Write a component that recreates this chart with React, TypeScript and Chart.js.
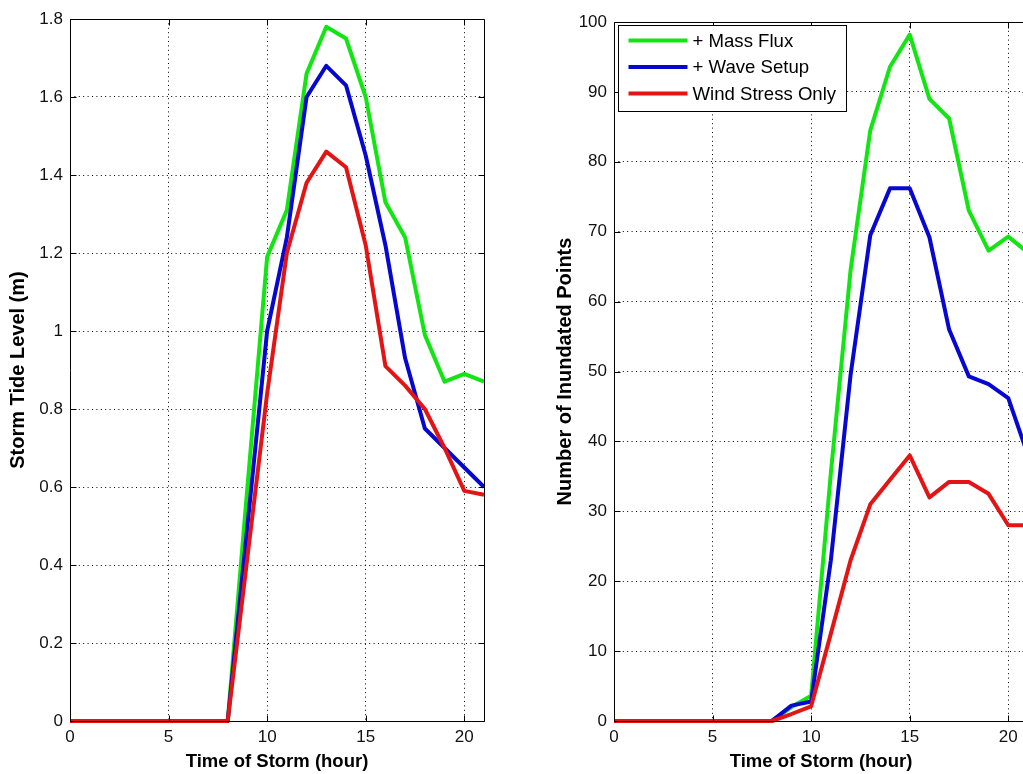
import React, { useEffect, useRef } from "react";
import { Chart, registerables } from "chart.js";

Chart.register(...registerables);

// ---------------- data ----------------
const hours = [0, 1, 2, 3, 4, 5, 6, 7, 8, 9, 10, 11, 12, 13, 14, 15, 16, 17, 18, 19, 20, 21];

const seriesLabels = ["+ Mass Flux", "+ Wave Setup", "Wind Stress Only"];
const seriesColors = ["#12e612", "#0707d2", "#e41414"];

// Left panel: Storm Tide Level (m)
const tideMassFlux = [0, 0, 0, 0, 0, 0, 0, 0, 0, 0.6, 1.19, 1.31, 1.66, 1.78, 1.75, 1.6, 1.33, 1.24, 0.99, 0.87, 0.89, 0.87];
const tideWaveSetup = [0, 0, 0, 0, 0, 0, 0, 0, 0, 0.5, 1.0, 1.24, 1.6, 1.68, 1.63, 1.45, 1.22, 0.93, 0.75, 0.7, 0.65, 0.6];
const tideWindOnly = [0, 0, 0, 0, 0, 0, 0, 0, 0, 0.42, 0.84, 1.2, 1.38, 1.46, 1.42, 1.22, 0.91, 0.86, 0.8, 0.7, 0.59, 0.58];

// Right panel: Number of Inundated Points
const pointsMassFlux = [0, 0, 0, 0, 0, 0, 0, 0, 0, 2, 3.6, 35.5, 64.5, 84.5, 93.6, 98.2, 89, 86.2, 73, 67.3, 69.3, 67];
const pointsWaveSetup = [0, 0, 0, 0, 0, 0, 0, 0, 0, 2.2, 2.8, 23, 49.5, 69.5, 76.2, 76.2, 69.2, 56, 49.3, 48.2, 46.2, 38];
const pointsWindOnly = [0, 0, 0, 0, 0, 0, 0, 0, 0, 1.0, 2.1, 12.5, 23, 31, 34.5, 38, 32, 34.2, 34.2, 32.5, 28, 28];

// Ticks
const xTicks = [0, 5, 10, 15, 20];
const leftYTicks = [0, 0.2, 0.4, 0.6, 0.8, 1, 1.2, 1.4, 1.6, 1.8];
const rightYTicks = [0, 10, 20, 30, 40, 50, 60, 70, 80, 90, 100];

const xTitle = "Time of Storm (hour)";
const leftYTitle = "Storm Tide Level (m)";
const rightYTitle = "Number of Inundated Points";

// ---------------- styling ----------------
const FONT = '"Liberation Sans", Arial, Helvetica, sans-serif';
const TICK_LEN = 6;

const matlabAxes = {
  id: "matlabAxes",
  afterDatasetsDraw(chart: any, _args: any, opts: any) {
    const { ctx, chartArea: a, scales } = chart;
    const L = Math.round(a.left) + 0.5;
    const R = Math.round(a.right) + 0.5;
    const T = Math.round(a.top) + 0.5;
    const B = Math.round(a.bottom) + 0.5;
    ctx.save();
    ctx.strokeStyle = "#000";
    ctx.lineWidth = 1;
    ctx.beginPath();
    ctx.rect(L, T, R - L, B - T);
    const xs = scales.x;
    for (const t of xs.ticks) {
      const px = Math.round(xs.getPixelForValue(t.value)) + 0.5;
      ctx.moveTo(px, B);
      ctx.lineTo(px, B - TICK_LEN);
      ctx.moveTo(px, T);
      ctx.lineTo(px, T + TICK_LEN);
    }
    const ys = scales.y;
    for (const t of ys.ticks) {
      const py = Math.round(ys.getPixelForValue(t.value)) + 0.5;
      ctx.moveTo(L, py);
      ctx.lineTo(L + TICK_LEN, py);
      ctx.moveTo(R, py);
      ctx.lineTo(R - TICK_LEN, py);
    }
    ctx.stroke();

    if (opts && opts.legend) {
      const bx = Math.round(a.left) + 4.5;
      const by = Math.round(a.top) + 3.5;
      const bw = 228;
      const bh = 86;
      ctx.fillStyle = "#fff";
      ctx.fillRect(bx, by, bw, bh);
      ctx.strokeStyle = "#000";
      ctx.lineWidth = 1;
      ctx.strokeRect(bx, by, bw, bh);
      ctx.font = `18.6px ${FONT}`;
      ctx.textBaseline = "middle";
      ctx.textAlign = "left";
      chart.data.datasets.forEach((ds: any, i: number) => {
        const ry = by + 15 + i * 26.5;
        ctx.strokeStyle = ds.borderColor;
        ctx.lineWidth = 4;
        ctx.beginPath();
        ctx.moveTo(bx + 10, ry);
        ctx.lineTo(bx + 69, ry);
        ctx.stroke();
        ctx.fillStyle = "#000";
        ctx.fillText(ds.label, bx + 74, ry + 1);
      });
    }
    ctx.restore();
  },
};

function makeDatasets(values: number[][]) {
  return values.map((arr, i) => ({
    label: seriesLabels[i],
    data: hours.map((h, j) => ({ x: h, y: arr[j] })),
    borderColor: seriesColors[i],
    backgroundColor: seriesColors[i],
    borderWidth: 4,
    pointRadius: 0,
    tension: 0,
    fill: false,
    clip: false as any,
    borderJoinStyle: "round" as const,
    order: 3 - i,
  }));
}

function makeConfig(p: {
  values: number[][];
  yMax: number;
  yTicks: number[];
  yTitle: string;
  yWidth: number;
  yTitlePad: number;
  padTop: number;
  padRight: number;
  legend: boolean;
}): any {
  return {
    type: "line",
    data: { datasets: makeDatasets(p.values) },
    plugins: [matlabAxes],
    options: {
      animation: false,
      responsive: false,
      maintainAspectRatio: false,
      devicePixelRatio: 1,
      layout: { padding: { top: p.padTop, right: p.padRight, left: 0, bottom: 0 } },
      plugins: {
        legend: { display: false },
        tooltip: { enabled: false },
        matlabAxes: { legend: p.legend },
      },
      scales: {
        x: {
          type: "linear",
          min: 0,
          max: 21,
          afterBuildTicks: (s: any) => {
            s.ticks = xTicks.map((v) => ({ value: v }));
          },
          afterFit: (s: any) => {
            s.height = 53;
          },
          ticks: {
            includeBounds: false,
            autoSkip: false,
            maxRotation: 0,
            padding: 6,
            color: "#111",
            font: { family: FONT, size: 17 },
            callback: (v: any) => String(v),
          },
          grid: {
            color: "#000",
            lineWidth: 1,
            drawTicks: false,
          },
          border: { display: false, dash: [1, 3.4] },
          title: {
            display: true,
            text: xTitle,
            color: "#000",
            font: { family: FONT, size: 18.5, weight: "bold" },
            padding: { top: 0, bottom: 1 },
          },
        },
        y: {
          type: "linear",
          min: 0,
          max: p.yMax,
          afterBuildTicks: (s: any) => {
            s.ticks = p.yTicks.map((v) => ({ value: v }));
          },
          afterFit: (s: any) => {
            s.width = p.yWidth;
          },
          ticks: {
            autoSkip: false,
            padding: 7,
            color: "#111",
            font: { family: FONT, size: 17 },
            callback: (v: any) => String(v),
          },
          grid: {
            color: "#000",
            lineWidth: 1,
            drawTicks: false,
          },
          border: { display: false, dash: [1, 3.4] },
          title: {
            display: true,
            text: p.yTitle,
            color: "#000",
            font: { family: FONT, size: 20, weight: "bold" },
            padding: { top: p.yTitlePad, bottom: 0 },
          },
        },
      },
    },
  };
}

export default function App() {
  const leftRef = useRef<HTMLCanvasElement>(null);
  const rightRef = useRef<HTMLCanvasElement>(null);

  useEffect(() => {
    const c1 = new Chart(
      leftRef.current as HTMLCanvasElement,
      makeConfig({
        values: [tideMassFlux, tideWaveSetup, tideWindOnly],
        yMax: 1.8,
        yTicks: leftYTicks,
        yTitle: leftYTitle,
        yWidth: 70,
        yTitlePad: 6,
        padTop: 19,
        padRight: 16,
        legend: false,
      })
    );
    const c2 = new Chart(
      rightRef.current as HTMLCanvasElement,
      makeConfig({
        values: [pointsMassFlux, pointsWaveSetup, pointsWindOnly],
        yMax: 100,
        yTicks: rightYTicks,
        yTitle: rightYTitle,
        yWidth: 94,
        yTitlePad: 33,
        padTop: 22,
        padRight: 22,
        legend: true,
      })
    );
    return () => {
      c1.destroy();
      c2.destroy();
    };
  }, []);

  return (
    <div
      style={{
        position: "fixed",
        left: 0,
        top: 0,
        width: 1023,
        height: 774,
        overflow: "hidden",
        background: "#fff",
      }}
    >
      <canvas ref={leftRef} width={500} height={774} style={{ position: "absolute", left: 0, top: 0 }} />
      <canvas ref={rightRef} width={530} height={774} style={{ position: "absolute", left: 520, top: 0 }} />
    </div>
  );
}
